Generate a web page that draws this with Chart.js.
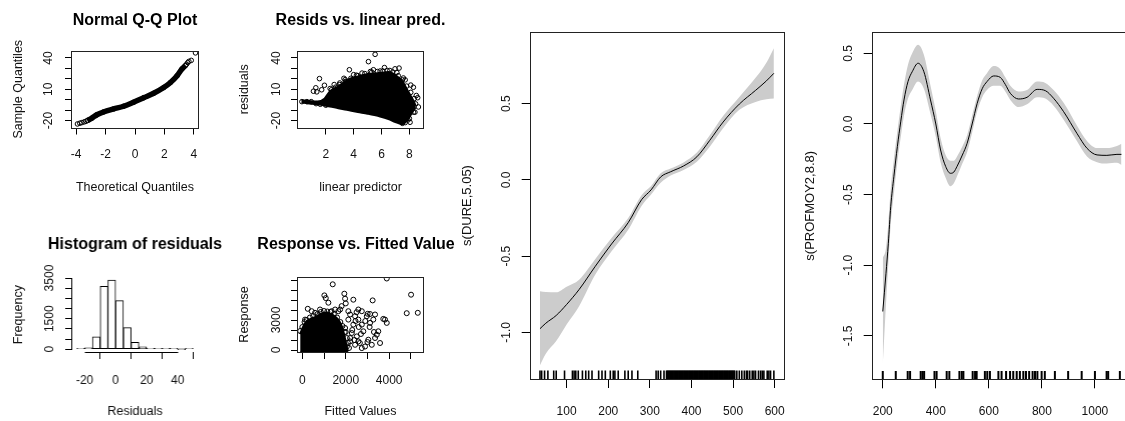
<!DOCTYPE html>
<html><head><meta charset="utf-8">
<script src="https://cdn.jsdelivr.net/npm/chart.js@4.4.1/dist/chart.umd.min.js"></script>
<style>
html,body{margin:0;padding:0;background:#fff;width:1125px;height:421px;overflow:hidden;position:relative;}
canvas{position:absolute;}
</style></head><body>
<canvas id="qq"></canvas><canvas id="rl"></canvas><canvas id="hi"></canvas><canvas id="rf"></canvas><canvas id="du"></canvas><canvas id="pr"></canvas>
<script>
// ---------- Panel 1: Normal Q-Q Plot ----------
const qqCoreTheo   = [-3.23, -2.93, -2.59, -2.14, -1.45, -0.77, -0.09, 0.59, 1.27, 1.95, 2.41, 2.86, 3.2, 3.43];
const qqCoreSample = [-20.0, -17.7, -14.5, -11.8, -8.9, -6.3, -2.4, 1.9, 6.1, 11.6, 16.5, 23.0, 29.6, 32.8];
const qqTailTheo   = [-3.91, -3.75, -3.61, -3.45, -3.33, 3.5, 3.58, 3.66, 3.82, 4.11];
const qqTailSample = [-23.3, -22.6, -22.0, -21.3, -20.7, 34.0, 35.5, 36.7, 37.7, 44.9];
const qqXTicks = [-4, -2, 0, 2, 4];
const qqXLabels = [-4, -2, 0, 2, 4];
const residTicks = [-20, -10, 0, 10, 20, 30, 40];
const residLabels = [-20, 10, 40];

// ---------- Panel 2: Resids vs. linear pred. ----------
const lpBlobX     = [0.25, 0.8, 1.4, 1.9, 2.3, 2.9, 3.6, 4.3, 5.0, 5.8, 6.5, 7.0, 7.5, 7.9, 8.3, 8.45];
const lpBlobUpper = [-0.5, -1.2, -1.8, 1.0, 8.1, 12.9, 19.2, 22.3, 24.6, 25.5, 26.5, 23.5, 17.6, 8.1, -1.3, -6.0];
const lpBlobLower = [-2.8, -3.6, -4.5, -5.5, -6.5, -8.2, -10.0, -11.8, -13.5, -15.8, -18.5, -21.5, -23.5, -19.0, -10.0, -7.5];
const lpOutX = [0.28, 0.64, 0.95, 1.11, 1.28, 1.54, 1.9, 2.31, 3.39, 3.69, 4.2, 5.06, 5.42, 5.54, 6.21, 6.97, 7.26, 7.57, 8.29, 8.6, 8.65, 8.05, 7.5, 7.9, 8.4, 1.35, 1.7, 2.6, 3.0, 3.3, 4.0, 4.6, 5.2, 5.9, 6.6, 7.1, 7.7, 8.1, 8.5,
  2.4, 2.7, 3.0, 3.4, 3.8, 4.3, 4.8, 5.3, 5.7, 6.1, 6.4, 6.8, 7.2, 7.5, 7.8, 8.1, 8.35, 8.45, 8.3, 8.0, 7.7, 1.3, 1.6, 2.0];
const lpOutY = [-1.9, -1.9, -1.9, 8.1, 11.4, 20.2, 13.8, 10.7, 19.2, 28.7, 23.5, 36.5, 28.7, 43.5, 30.8, 29.6, 30.3, 20.8, 11.9, 1.9, -7.0, -21.7, -22.7, -19.5, -12.0, 7.5, 9.5, 14.5, 16.0, 20.5, 24.0, 25.5, 27.0, 27.5, 28.0, 26.0, 19.0, 14.0, 4.0,
  9.5, 12.0, 14.5, 17.5, 20.5, 23.0, 25.0, 26.5, 27.0, 27.5, 28.0, 26.5, 23.0, 19.0, 13.0, 7.0, 1.0, -4.0, -12.0, -18.0, -22.0, -3.8, -4.4, -5.3];
const lpXTicks = [2, 4, 6, 8];
const lpXLabels = [2, 4, 6, 8];

// ---------- Panel 3: Histogram of residuals ----------
const histMids   = [-22.5, -17.5, -12.5, -7.5, -2.5, 2.5, 7.5, 12.5, 17.5, 22.5, 27.5, 32.5, 37.5, 42.5, 47.5];
const histCounts = [2, 70, 605, 3095, 3400, 2390, 1060, 340, 115, 50, 12, 4, 2, 0, 1];
const histXTicks = [-20, 0, 20, 40];
const histXLabels = [-20, 0, 20, 40];
const histYTicks = [0, 500, 1000, 1500, 2000, 2500, 3000, 3500];
const histYLabels = [0, 1500, 3500];

// ---------- Panel 4: Response vs. Fitted Values ----------
const fvBlobX     = [-100, 100, 300, 600, 900, 1100, 1300, 1500, 1700, 1850, 1950, 2050, 2100];
const fvBlobUpper = [1600, 2600, 3000, 3300, 3650, 3750, 3600, 3350, 2900, 2200, 1300, 300, -150];
const fvBlobLower = [-200, -200, -200, -200, -200, -200, -200, -200, -200, -200, -200, -200, -200];
const fvOutX = [1400, 3890, 5010, 4810, 5320, 3240, 1935, 2350, 1015, 1080, 1200, 250, 1970, 2000, 3730, 3890, 3350, 3120, 3010, 3430, 3580, 2740, 2580, 2500, 2580, 585, 1660,
  2120, 2350, 2580, 2740, 2970, 3120, 3270, 2280, 2510, 2810, 3040, 2200, 2430, 3200, 2890, 2050, 3350, 3500, 1970, 2200, 2430, 1740, 1810, 1510, 1350, 815, 430, 125, 2120, 2740, 3810,
  -100, 0, 100, 200, 350, 500, 700, 850, 1000, 1150, 1300, 1450, 1600, 1750, 1850, 1950, 2050, 2100, 2150,
  2300, 2600, 2900, 3100, 3300, 2450, 2700, 2200, 2000, 2400, 2650, 3000];
const fvOutY = [6570, 7150, 5530, 3680, 3720, 4960, 5630, 5030, 5460, 5190, 4730, 4120, 5130, 4660, 3110, 2710, 3550, 3600, 3620, 1530, 700, 190, 860, 3780, 4050, 3720, 3880,
  3040, 2540, 3040, 2540, 3380, 2710, 3040, 1700, 1360, 1870, 1030, 860, 520, 520, 350, 350, 1200, 1870, 2200, 3550, 3380, 4050, 4390, 4050, 3880, 4050, 3880, 3040, 3880, 3880, 3040,
  1900, 2300, 2800, 3000, 3250, 3400, 3600, 3800, 3900, 3850, 3800, 3600, 3250, 2800, 2400, 1800, 1200, 700, 200,
  2000, 2300, 2900, 2300, 1800, 2900, 1600, 1200, 1800, 1000, 700, 800];
const fvXTicks = [0, 1000, 2000, 3000, 4000, 5000];
const fvXLabels = [0, 2000, 4000];
const fvYTicks = [0, 1000, 2000, 3000, 4000, 5000, 6000, 7000];
const fvYLabels = [0, 3000];

// ---------- Panel 5: s(DURE,5.05) ----------
const dureX     = [36, 50, 75, 100, 130, 169, 208, 248, 280, 303, 326, 350, 381, 413, 444, 476, 515, 554, 580, 598];
const dureFit   = [-0.976, -0.94, -0.889, -0.817, -0.719, -0.566, -0.42, -0.28, -0.13, -0.065, 0.02, 0.054, 0.092, 0.152, 0.26, 0.38, 0.498, 0.588, 0.65, 0.70];
const dureUpper = [-0.73, -0.735, -0.737, -0.70, -0.654, -0.518, -0.381, -0.25, -0.10, -0.04, 0.044, 0.075, 0.115, 0.18, 0.294, 0.42, 0.545, 0.67, 0.77, 0.865];
const dureLower = [-1.216, -1.14, -1.057, -0.948, -0.828, -0.621, -0.468, -0.327, -0.17, -0.095, -0.018, 0.03, 0.066, 0.12, 0.218, 0.34, 0.46, 0.512, 0.53, 0.534];
const dureRug = [36, 40, 47, 55, 69, 75, 95, 114, 118, 122, 128, 138, 146, 153, 161, 177, 185, 193, 205, 212, 216, 224, 240, 248, 257, 271, 315, 320, 326, 334, 340,
  342, 344, 346, 348, 350, 352, 354, 356, 358, 360, 362, 364, 366, 368, 370, 372, 374, 376, 378, 380, 382, 384, 386, 388, 390, 392, 394, 396, 398, 400,
  402, 404, 406, 408, 410, 412, 414, 416, 418, 420, 422, 424, 426, 428, 430, 432, 434, 436, 438, 440, 442, 444, 446, 448, 450, 452, 454, 456, 458, 460,
  462, 464, 466, 468, 470, 472, 474, 476, 478, 480, 482, 484, 486, 488, 490, 492, 494, 496, 498, 500, 502, 504,
  509, 515, 521, 527, 532, 535, 540, 546, 550, 554, 561, 566, 570, 574, 582, 586, 590, 598];
const dureXTicks = [100, 200, 300, 400, 500, 600];
const dureYTicks = [-1.0, -0.5, 0.0, 0.5];

// ---------- Panel 6: s(PROFMOY2,8.8) ----------
const profX     = [200, 212, 221, 230, 242, 255, 268, 280, 295, 311, 333, 355, 380, 400, 418, 437, 455, 468, 480, 500, 518, 537, 556, 575, 593, 618, 643, 662, 681, 712, 744, 782, 813, 844, 882, 932, 970, 1008, 1045, 1083, 1100];
const profFit   = [-1.327, -1.06, -0.844, -0.585, -0.37, -0.16, 0.02, 0.17, 0.30, 0.37, 0.43, 0.37, 0.17, 0.0, -0.184, -0.30, -0.349, -0.34, -0.30, -0.22, -0.137, 0.0, 0.146, 0.25, 0.30, 0.34, 0.33, 0.28, 0.217, 0.177, 0.189, 0.245, 0.236, 0.182, 0.087, -0.066, -0.172, -0.219, -0.222, -0.215, -0.215];
const profUpper = [-0.95, -0.88, -0.70, -0.46, -0.25, -0.05, 0.13, 0.28, 0.42, 0.50, 0.56, 0.49, 0.27, 0.09, -0.10, -0.22, -0.26, -0.26, -0.23, -0.16, -0.08, 0.06, 0.20, 0.31, 0.36, 0.41, 0.39, 0.33, 0.27, 0.23, 0.24, 0.30, 0.29, 0.24, 0.15, -0.01, -0.12, -0.17, -0.17, -0.155, -0.14];
const profLower = [-1.70, -1.28, -0.99, -0.71, -0.49, -0.27, -0.09, 0.06, 0.18, 0.24, 0.30, 0.25, 0.07, -0.09, -0.27, -0.38, -0.44, -0.42, -0.37, -0.28, -0.20, -0.06, 0.09, 0.19, 0.24, 0.27, 0.27, 0.23, 0.17, 0.12, 0.14, 0.19, 0.18, 0.13, 0.03, -0.12, -0.23, -0.27, -0.28, -0.275, -0.29];
const profRug = [200, 249, 294, 303, 343, 350, 356, 395, 403, 441, 451, 489, 498, 504, 539, 548, 554, 585, 594, 604, 636, 648, 665, 680, 692, 705, 717, 730, 740, 752, 765, 774, 783, 799, 811, 849, 899, 950, 1000, 1044, 1050, 1094];
const profXTicks = [200, 400, 600, 800, 1000];
const profYTicks = [-1.5, -1.0, -0.5, 0.0, 0.5];

// ---------- helpers ----------
const FAMILY = "'Liberation Sans', Arial, Helvetica, sans-serif";
const TXT = '#111';
Chart.defaults.font.family = FAMILY;
Chart.defaults.color = TXT;
Chart.defaults.animation = false;
Chart.defaults.events = [];

const pts = (xs, ys) => xs.map((x, i) => ({x: x, y: ys[i]}));
const has = (arr, v) => arr.some(a => Math.abs(a - v) < 1e-9);
const circ = {type: 'line', showLine: false, pointRadius: 2.3, pointBorderWidth: 1, pointBorderColor: '#000', pointBackgroundColor: 'rgba(0,0,0,0)', borderColor: '#000'};

const boxPlugin = {
  id: 'rbox',
  afterDatasetsDraw(chart, args, opts) {
    if (!opts.on) return;
    const a = chart.chartArea, ctx = chart.ctx;
    ctx.save(); ctx.strokeStyle = '#222'; ctx.lineWidth = 1;
    const l = Math.round(a.left) - 0.5, t = Math.round(a.top) + 0.5, r = Math.round(a.right) + 0.5, b = Math.round(a.bottom) + 0.5;
    ctx.strokeRect(l, t, r - l, b - t);
    ctx.restore();
  }
};
const axisPlugin = {
  id: 'raxis',
  afterDraw(chart, args, opts) {
    if (!opts.on) return;
    const a = chart.chartArea, ctx = chart.ctx, x = chart.scales.x, y = chart.scales.y;
    const xt = x.ticks, yt = y.ticks;
    ctx.save(); ctx.strokeStyle = '#000'; ctx.lineWidth = 1; ctx.beginPath();
    const yy = Math.round(a.bottom) + 0.5;
    ctx.moveTo(Math.round(x.getPixelForValue(xt[0].value)) + 0.5, yy);
    ctx.lineTo(Math.round(x.getPixelForValue(xt[xt.length - 1].value)) + 0.5, yy);
    const xx = Math.round(a.left) - 0.5;
    ctx.moveTo(xx, Math.round(y.getPixelForValue(yt[0].value)) + 0.5);
    ctx.lineTo(xx, Math.round(y.getPixelForValue(yt[yt.length - 1].value)) + 0.5);
    ctx.stroke(); ctx.restore();
  }
};

function makePanel(o) {
  const cv = document.getElementById(o.id);
  const l = o.L - o.cx, t = o.T - o.cy, r = o.R - o.cx, b = o.B - o.cy;
  // with a title, a blank right box as wide as the y axis keeps the title centred on the plot
  const cw = o.title ? r + l : o.cw;
  cv.width = cw; cv.height = o.ch;
  cv.style.left = o.cx + 'px'; cv.style.top = o.cy + 'px';
  cv.style.width = cw + 'px'; cv.style.height = o.ch + 'px';
  if (o.bg) cv.style.background = o.bg;
  const tickLH = o.tickSize * 1.2, axLH = o.axSize * 1.2, titleLH = 16 * 1.2;
  const mctx = document.createElement('canvas').getContext('2d');
  mctx.font = o.tickSize + 'px ' + FAMILY;
  let widest = 0;
  o.yTicks.forEach(v => { if (has(o.yLabels, v)) widest = Math.max(widest, mctx.measureText(o.yFmt(v)).width); });
  const yPad = Math.max(0, l - (o.yTickX - o.cx) - o.tl - widest / 2);
  const xPad = (o.xTickY - o.cy) - b - o.tl - tickLH / 2;
  let padTop = t, titleCfg = {display: false};
  if (o.title) {
    padTop = (o.titleY - o.cy) - titleLH / 2;
    titleCfg = {display: true, text: o.title, fullSize: true, color: '#000',
      font: {size: 16, weight: 'bold', lineHeight: 1.2}, padding: {top: 0, bottom: t - padTop - titleLH}};
  }
  const grid = {display: true, drawOnChartArea: false, drawTicks: true, tickLength: o.tl, color: '#000', lineWidth: 1};
  const rugY = o.yMin + 4.2 * (o.yMax - o.yMin) / (o.B - o.T);
  const scales = {
    x: {type: 'linear', min: o.xMin, max: o.xMax, offset: false,
        afterBuildTicks: s => { s.ticks = o.xTicks.map(v => ({value: v})); },
        afterFit: s => { s.height = o.ch - b; },
        ticks: {autoSkip: false, minRotation: 0, maxRotation: 0, padding: xPad, color: TXT,
                font: {size: o.tickSize, lineHeight: 1.2},
                callback: v => has(o.xLabels, v) ? o.xFmt(v) : ''},
        grid: grid, border: {display: false},
        title: o.xTitle ? {display: true, text: o.xTitle, color: TXT, font: {size: o.axSize, lineHeight: 1.2},
                padding: {top: 0, bottom: o.ch - (o.xTitleY - o.cy) - axLH / 2}} : {display: false}},
    y: {type: 'linear', min: o.yMin, max: o.yMax,
        afterBuildTicks: s => { s.ticks = o.yTicks.map(v => ({value: v})); },
        afterFit: s => { s.width = l; },
        ticks: {autoSkip: false, minRotation: 90, maxRotation: 90, crossAlign: 'center', padding: yPad, color: TXT,
                font: {size: o.tickSize, lineHeight: 1.2},
                callback: v => has(o.yLabels, v) ? o.yFmt(v) : ''},
        grid: grid, border: {display: false},
        title: {display: true, text: o.yTitle, color: TXT, font: {size: o.axSize, lineHeight: 1.2},
                padding: {top: (o.yTitleX - o.cx) - axLH / 2, bottom: 0}}}
  };
  if (o.title) {
    scales.yR = {axis: 'y', type: 'linear', position: 'right', display: true,
                 ticks: {display: false}, grid: {display: false, drawTicks: false}, border: {display: false},
                 title: {display: false}, afterFit: s => { s.width = l; }};
  }
  new Chart(cv, {
    type: o.type,
    data: {datasets: o.datasets(rugY)},
    options: {
      responsive: false, devicePixelRatio: 1, animation: false,
      layout: {padding: {left: 0, top: padTop, right: o.title ? 0 : cw - r, bottom: 0}},
      plugins: {legend: {display: false}, tooltip: {enabled: false}, title: titleCfg,
                rbox: {on: !!o.box}, raxis: {on: !!o.axisLines}},
      scales: scales
    },
    plugins: [boxPlugin, axisPlugin]
  });
}
const intFmt = v => String(Math.round(v));
const decFmt = v => v.toFixed(1);

// Panel 1
makePanel({id: 'qq', type: 'line', cx: 0, cy: 0, cw: 230, ch: 210, L: 72, T: 51, R: 198, B: 127.5,
  title: 'Normal Q-Q Plot', titleY: 20.7, xMin: -4.28, xMax: 4.28, yMin: -26.7, yMax: 46.7,
  xTicks: qqXTicks, xLabels: qqXLabels, yTicks: residTicks, yLabels: residLabels, xFmt: intFmt, yFmt: intFmt,
  xTitle: 'Theoretical Quantiles', xTitleY: 188, yTitle: 'Sample Quantiles', yTitleX: 19,
  xTickY: 155, yTickX: 49, tl: 7, tickSize: 12, axSize: 12.5, box: true,
  datasets: () => [
    Object.assign({}, circ, {data: pts(qqCoreTheo, qqCoreSample), showLine: true, borderWidth: 5.5, cubicInterpolationMode: 'monotone'}),
    Object.assign({}, circ, {data: pts(qqTailTheo, qqTailSample)})
  ]});

// Panel 2
makePanel({id: 'rl', type: 'line', cx: 230, cy: 0, cw: 217, ch: 210, L: 298, T: 51, R: 423, B: 127.5,
  title: 'Resids vs. linear pred.', titleY: 20.7, xMin: 0.0, xMax: 8.98, yMin: -26.7, yMax: 46.7,
  xTicks: lpXTicks, xLabels: lpXLabels, yTicks: residTicks, yLabels: residLabels, xFmt: intFmt, yFmt: intFmt,
  xTitle: 'linear predictor', xTitleY: 187.7, yTitle: 'residuals', yTitleX: 245,
  xTickY: 155, yTickX: 276.7, tl: 7, tickSize: 12, axSize: 12.5, box: true,
  datasets: () => [
    Object.assign({}, circ, {data: pts(lpOutX, lpOutY)}),
    {type: 'line', data: pts(lpBlobX, lpBlobUpper), borderColor: '#000', borderWidth: 2, pointRadius: 0, cubicInterpolationMode: 'monotone'},
    {type: 'line', data: pts(lpBlobX, lpBlobLower), borderColor: '#000', borderWidth: 2, pointRadius: 0, fill: '-1', backgroundColor: '#000', cubicInterpolationMode: 'monotone'}
  ]});

// Panel 3
makePanel({id: 'hi', type: 'bar', cx: 0, cy: 210, cw: 230, ch: 211, L: 72, T: 277.3, R: 197.5, B: 352,
  title: 'Histogram of residuals', titleY: 245, xMin: -28, xMax: 53, yMin: -136, yMax: 3536,
  xTicks: histXTicks, xLabels: histXLabels, yTicks: histYTicks, yLabels: histYLabels, xFmt: intFmt, yFmt: intFmt,
  xTitle: 'Residuals', xTitleY: 411.7, yTitle: 'Frequency', yTitleX: 18.3,
  xTickY: 381, yTickX: 50, tl: 7, tickSize: 12, axSize: 12.5, box: false, axisLines: true,
  datasets: () => [
    {type: 'bar', data: pts(histMids, histCounts), backgroundColor: '#fff', borderColor: '#000', borderWidth: 1,
     borderSkipped: false, barPercentage: 1, categoryPercentage: 1, minBarLength: 1, grouped: false}
  ]});

// Panel 4
makePanel({id: 'rf', type: 'line', cx: 230, cy: 210, cw: 217, ch: 211, L: 298, T: 277, R: 423, B: 352,
  title: 'Response vs. Fitted Values', titleY: 245, xMin: -200, xMax: 5560, yMin: -200, yMax: 7300,
  xTicks: fvXTicks, xLabels: fvXLabels, yTicks: fvYTicks, yLabels: fvYLabels, xFmt: intFmt, yFmt: intFmt,
  xTitle: 'Fitted Values', xTitleY: 411.7, yTitle: 'Response', yTitleX: 245,
  xTickY: 381, yTickX: 276.7, tl: 7, tickSize: 12, axSize: 12.5, box: true,
  datasets: () => [
    Object.assign({}, circ, {data: pts(fvOutX, fvOutY), pointRadius: 2.5}),
    {type: 'line', data: pts(fvBlobX, fvBlobUpper), borderColor: '#000', borderWidth: 2, pointRadius: 0, cubicInterpolationMode: 'monotone'},
    {type: 'line', data: pts(fvBlobX, fvBlobLower), borderColor: '#000', borderWidth: 1, pointRadius: 0, fill: '-1', backgroundColor: '#000'}
  ]});

// Panel 5
makePanel({id: 'du', type: 'line', cx: 455, cy: 0, cw: 347, ch: 421, L: 530.7, T: 32, R: 789, B: 379, bg: '#fff',
  title: null, xMin: 13.7, xMax: 622.9, yMin: -1.306, yMax: 0.971,
  xTicks: dureXTicks, xLabels: dureXTicks, yTicks: dureYTicks, yLabels: dureYTicks, xFmt: intFmt, yFmt: decFmt,
  xTitle: null, yTitle: 's(DURE,5.05)', yTitleX: 467,
  xTickY: 412, yTickX: 506.7, tl: 9, tickSize: 12, axSize: 13, box: true,
  datasets: rugY => [
    {type: 'line', data: pts(dureX, dureFit), borderColor: '#000', borderWidth: 1, pointRadius: 0, cubicInterpolationMode: 'monotone'},
    {type: 'line', data: pts(dureX, dureUpper), borderColor: 'rgba(0,0,0,0)', borderWidth: 0, pointRadius: 0, cubicInterpolationMode: 'monotone'},
    {type: 'line', data: pts(dureX, dureLower), borderColor: 'rgba(0,0,0,0)', borderWidth: 0, pointRadius: 0, fill: '-1', backgroundColor: '#cccccc', cubicInterpolationMode: 'monotone'},
    {type: 'line', showLine: false, data: pts(dureRug, dureRug.map(() => rugY)), pointStyle: 'line', rotation: 90, pointRadius: 4.2,
     pointBorderWidth: 1.6, pointBorderColor: '#000', borderColor: '#000'}
  ]});

// Panel 6
makePanel({id: 'pr', type: 'line', cx: 802, cy: 0, cw: 340, ch: 421, L: 872.7, T: 32.3, R: 1131, B: 379.3,
  title: null, xMin: 162, xMax: 1136, yMin: -1.807, yMax: 0.649,
  xTicks: profXTicks, xLabels: profXTicks, yTicks: profYTicks, yLabels: profYTicks, xFmt: intFmt, yFmt: decFmt,
  xTitle: null, yTitle: 's(PROFMOY2,8.8)', yTitleX: 810,
  xTickY: 411.7, yTickX: 848.3, tl: 9, tickSize: 12, axSize: 13, box: true,
  datasets: rugY => [
    {type: 'line', data: pts(profX, profFit), borderColor: '#000', borderWidth: 1, pointRadius: 0, cubicInterpolationMode: 'monotone'},
    {type: 'line', data: pts(profX, profUpper), borderColor: 'rgba(0,0,0,0)', borderWidth: 0, pointRadius: 0, cubicInterpolationMode: 'monotone'},
    {type: 'line', data: pts(profX, profLower), borderColor: 'rgba(0,0,0,0)', borderWidth: 0, pointRadius: 0, fill: '-1', backgroundColor: '#cccccc', cubicInterpolationMode: 'monotone'},
    {type: 'line', showLine: false, data: pts(profRug, profRug.map(() => rugY)), pointStyle: 'line', rotation: 90, pointRadius: 4.2,
     pointBorderWidth: 2, pointBorderColor: '#000', borderColor: '#000'}
  ]});
</script>
</body></html>
